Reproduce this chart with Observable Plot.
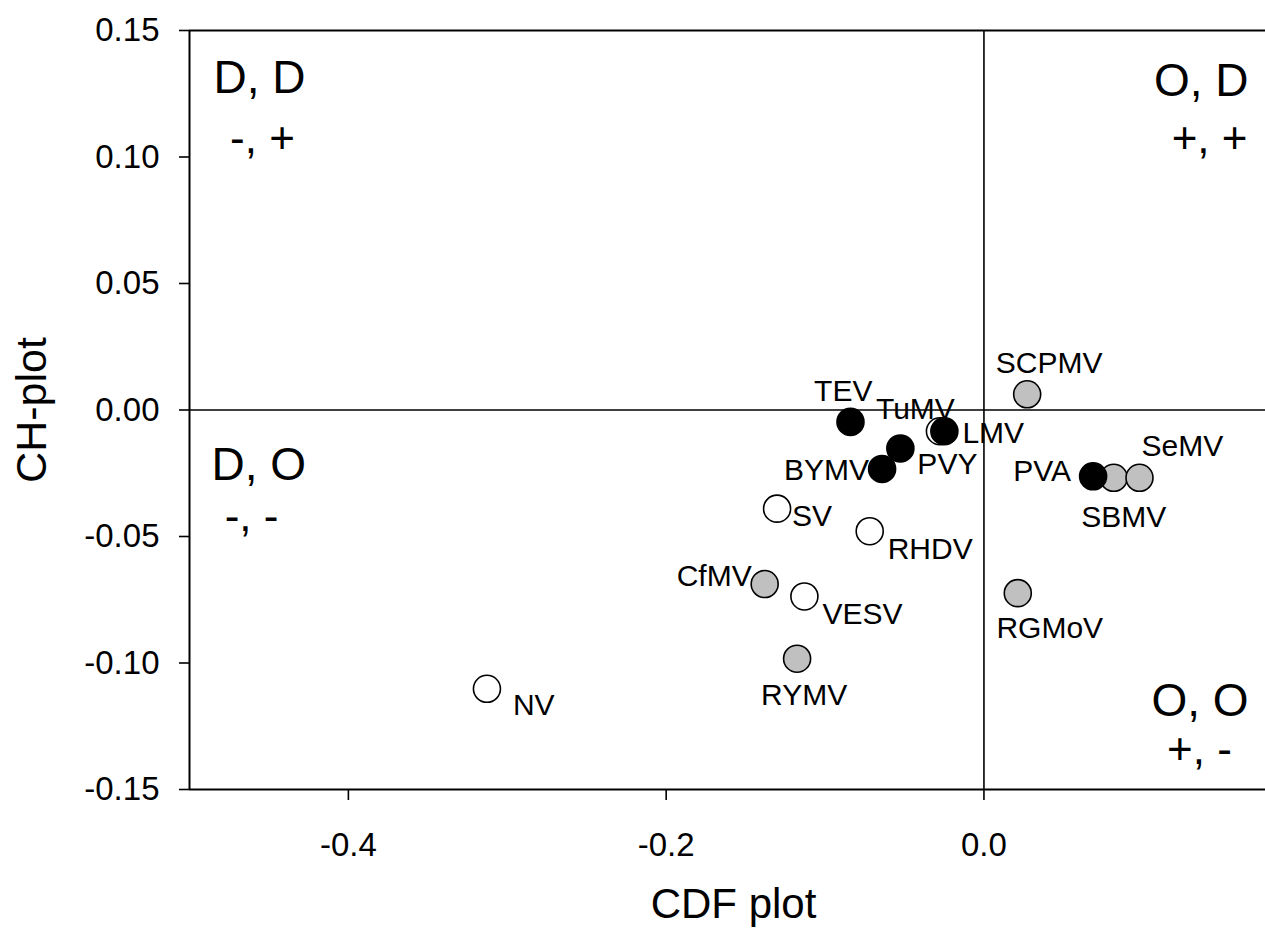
<!DOCTYPE html>
<html><head><meta charset="utf-8">
<script src="https://cdn.jsdelivr.net/npm/d3@7"></script>
<script src="https://cdn.jsdelivr.net/npm/@observablehq/plot@0.6"></script>
<style>
body{margin:0;background:#fff;}
#chart svg{display:block;}
</style></head><body><div id="chart"></div>
<script>
// ---- data ----
const viruses   = ["TEV","TuMV","LMV","PVY","BYMV","SBMV","PVA","SeMV","SCPMV","RGMoV","CfMV","RYMV","SV","RHDV","VESV","NV"];
const cdfValues = [-0.0840,-0.0277,-0.0249,-0.0526,-0.0641,0.0817,0.0687,0.0979,0.0272,0.0213,-0.1380,-0.1176,-0.1302,-0.0719,-0.1130,-0.3128];
const chValues  = [-0.0047,-0.0084,-0.0084,-0.0152,-0.0233,-0.0268,-0.0262,-0.0268,0.0062,-0.0724,-0.0688,-0.0983,-0.0390,-0.0479,-0.0737,-0.1102];
const groups    = ["filled","open","filled","filled","filled","grey","filled","grey","grey","grey","grey","grey","open","open","open","open"];
const xTicks = [-0.4,-0.2,0.0];
const yTicks = [-0.15,-0.10,-0.05,0.00,0.05,0.10,0.15];
const quadrantTitles = ["D, D","O, D","D, O","O, O"];
const quadrantSigns  = ["-, +","+, +","-, -","+, -"];

// ---- layout config (not data) ----
const labelPlacement = {
  TEV:["end",22,-21], TuMV:["start",-64,-12], LMV:["start",18,12], PVY:["start",17,26],
  BYMV:["end",-13,11], SCPMV:["middle",22,-21], SeMV:["start",2,-22], PVA:["end",-22,5],
  SBMV:["middle",10,49], SV:["start",15,17], RHDV:["start",18,28], CfMV:["end",-13,2],
  VESV:["start",18,28], RYMV:["middle",7,46], RGMoV:["middle",32,45], NV:["start",26,26]
};

const data = viruses.map((name,i)=>({name, cdf:cdfValues[i], ch:chValues[i], group:groups[i]}));
const font = "'Liberation Sans', Arial, Helvetica, sans-serif";

const labelMarks = data.map(d => {
  const [anchor, dx, dy] = labelPlacement[d.name];
  return Plot.text([d], {x:"cdf", y:"ch", text:"name", textAnchor:anchor, dx, dy, lineAnchor:"bottom", fontSize:30, fill:"black"});
});

const chart = Plot.plot({
  width:1265, height:930,
  marginLeft:189, marginRight:0, marginTop:30, marginBottom:141,
  style:{fontFamily:font, background:"white", color:"black", fontSize:"30px"},
  x:{domain:[-0.5, 0.1772]},
  y:{domain:[-0.15, 0.15]},
  color:{domain:["filled","grey","open"], range:["black","#c0c0c0","white"]},
  marks:[
    Plot.ruleY([0.15,-0.15], {stroke:"black", strokeWidth:2}),
    Plot.ruleX([-0.5], {stroke:"black", strokeWidth:2}),
    Plot.ruleX([0], {stroke:"black", strokeWidth:1.6}),
    Plot.ruleY([0], {stroke:"black", strokeWidth:1.6}),
    Plot.axisY(yTicks, {tickSize:10, tickPadding:20, tickFormat:d=>d.toFixed(2), fontSize:33, stroke:"black", strokeWidth:1.6, label:null}),
    Plot.axisX(xTicks, {tickSize:11, tickPadding:32, tickFormat:d=>d.toFixed(1), fontSize:33, stroke:"black", strokeWidth:1.6, label:null}),
    Plot.text(["CH-plot"], {frameAnchor:"left", rotate:-90, dx:-144, lineAnchor:"bottom", textAnchor:"middle", fontSize:43, fill:"black"}),
    Plot.text(["CDF plot"], {frameAnchor:"bottom", dx:6, dy:128, lineAnchor:"bottom", textAnchor:"middle", fontSize:42, fill:"black"}),
    Plot.text([quadrantTitles[0]], {frameAnchor:"top-left", dx:24, dy:62, lineAnchor:"bottom", textAnchor:"start", fontSize:46, fill:"black"}),
    Plot.text([quadrantSigns[0]], {frameAnchor:"top-left", dx:73, dy:122, lineAnchor:"bottom", textAnchor:"middle", fontSize:44, fill:"black"}),
    Plot.text([quadrantTitles[1]], {frameAnchor:"top-right", dx:-17, dy:65, lineAnchor:"bottom", textAnchor:"end", fontSize:46, fill:"black"}),
    Plot.text([quadrantSigns[1]], {frameAnchor:"top-right", dx:-18, dy:122, lineAnchor:"bottom", textAnchor:"end", fontSize:44, fill:"black"}),
    Plot.text([quadrantTitles[2]], {frameAnchor:"left", dx:22, dy:70, lineAnchor:"bottom", textAnchor:"start", fontSize:46, fill:"black"}),
    Plot.text([quadrantSigns[2]], {frameAnchor:"left", dx:62, dy:121, lineAnchor:"bottom", textAnchor:"middle", fontSize:44, fill:"black"}),
    Plot.text([quadrantTitles[3]], {frameAnchor:"bottom-right", dx:-17, dy:-74, lineAnchor:"bottom", textAnchor:"end", fontSize:46, fill:"black"}),
    Plot.text([quadrantSigns[3]], {frameAnchor:"bottom-right", dx:-66, dy:-26, lineAnchor:"bottom", textAnchor:"middle", fontSize:44, fill:"black"}),
    Plot.dot(data, {x:"cdf", y:"ch", r:13.5, fill:"group", stroke:"black", strokeWidth:1.6}),
    ...labelMarks
  ]
});
document.getElementById("chart").appendChild(chart);
</script></body></html>
